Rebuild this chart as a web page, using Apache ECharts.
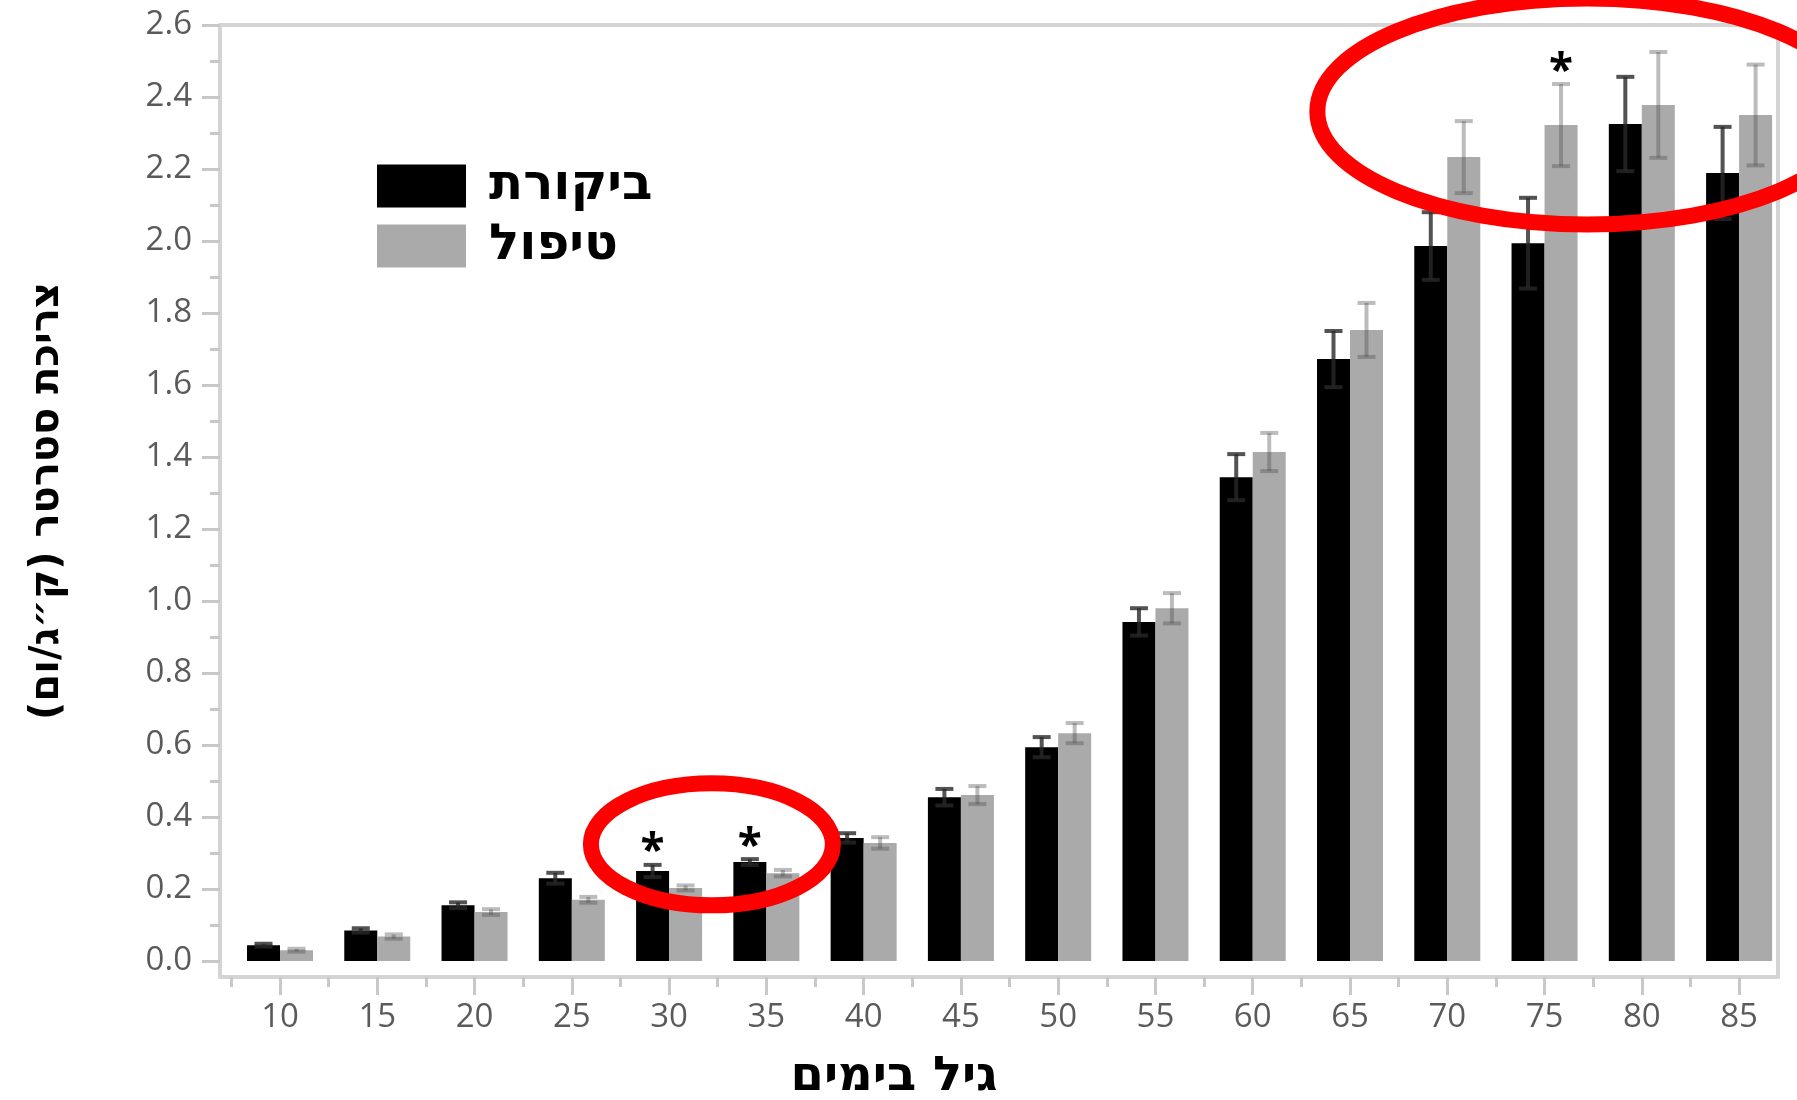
<!DOCTYPE html>
<html><head><meta charset="utf-8">
<script src="https://cdn.jsdelivr.net/npm/echarts@6/dist/echarts.min.js"></script>
<style>html,body{margin:0;padding:0;background:#fff}#c{width:1797px;height:1100px}</style>
</head><body><div id="c"></div>
<script>
// ---- data ----
const ages = [10,15,20,25,30,35,40,45,50,55,60,65,70,75,80,85];
const controlName = 'ביקורת';
const treatName = 'טיפול';
const controlMean = [0.044,0.085,0.155,0.23,0.25,0.275,0.342,0.455,0.594,0.942,1.344,1.672,1.986,1.994,2.325,2.189];
const controlErr  = [0.004,0.006,0.008,0.015,0.017,0.008,0.013,0.023,0.028,0.038,0.064,0.078,0.094,0.126,0.131,0.128];
const treatMean   = [0.030,0.068,0.136,0.170,0.203,0.244,0.328,0.461,0.633,0.980,1.414,1.753,2.233,2.322,2.378,2.350];
const treatErr    = [0.004,0.006,0.008,0.008,0.007,0.009,0.016,0.025,0.028,0.042,0.053,0.075,0.100,0.114,0.147,0.140];
const yTickLabels = ['0.0','0.2','0.4','0.6','0.8','1.0','1.2','1.4','1.6','1.8','2.0','2.2','2.4','2.6'];
const sigAges  = [30, 35, 75];
const sigGroup = [0, 0, 1]; // 0 = control, 1 = treatment
const highlightCenters = [[32.2, 0.324], [77.2, 2.36]];
const yTitle = 'צריכת סטרטר (ק״ג/ום)';
const xTitle = 'גיל בימים';

// ---- style constants ----
const BAR_W = 33;
const X_MIN = 6.916, X_MAX = 87.0, Y_MIN = -0.0444, Y_MAX = 2.6;
const FRAME = '#d4d4d4';
const TICK = '#c8c8c8';
const HEB = "'DejaVu Sans', 'Liberation Sans', Arial, sans-serif";
const NUM = "'Open Sans', 'DejaVu Sans', sans-serif";

const yMajor = yTickLabels.map(Number);
const yMinor = yMajor.slice(0, -1).map(v => +(v + 0.1).toFixed(2));
const xMinor = ages.map(a => a - 2.5);

const chart = echarts.init(document.getElementById('c'), null, {renderer: 'canvas'});

function errSeries(means, errs, side, color) {
  return {
    type: 'custom', xAxisIndex: 0, yAxisIndex: 0, z: 5, silent: true,
    data: ages.map((a, i) => [a, means[i], errs[i]]),
    renderItem: function (params, api) {
      const x = api.value(0), m = api.value(1), e = api.value(2);
      const t = api.coord([x, m + e]);
      const b = api.coord([x, m - e]);
      const cx = t[0] + side * BAR_W / 2;
      const st = {stroke: color, lineWidth: 4};
      return {type: 'group', children: [
        {type: 'line', shape: {x1: cx, y1: t[1], x2: cx, y2: b[1]}, style: st},
        {type: 'line', shape: {x1: cx - 9, y1: t[1], x2: cx + 9, y2: t[1]}, style: st},
        {type: 'line', shape: {x1: cx - 9, y1: b[1], x2: cx + 9, y2: b[1]}, style: st}
      ]};
    }
  };
}

const option = {
  animation: false,
  backgroundColor: '#fff',
  grid: {left: 220, right: 19, top: 25, bottom: 123, containLabel: false},
  legend: {
    data: [controlName, treatName], orient: 'vertical', left: 372, top: 156,
    itemWidth: 89, itemHeight: 43, itemGap: 10, icon: 'rect',
    textStyle: {fontSize: 50, fontWeight: 'bold', color: '#000', fontFamily: HEB, padding: [0, 0, 0, 18]}
  },
  xAxis: [
    {type: 'value', min: X_MIN, max: X_MAX, position: 'bottom',
     axisLine: {show: true, onZero: false, lineStyle: {color: FRAME, width: 4}},
     axisTick: {show: true, customValues: ages, length: 18, lineStyle: {color: TICK, width: 3}},
     axisLabel: {customValues: ages, fontSize: 33, color: '#5a5a5a', fontFamily: NUM, margin: 24},
     splitLine: {show: false}},
    {type: 'value', min: X_MIN, max: X_MAX, position: 'bottom',
     axisLine: {show: false, onZero: false},
     axisTick: {show: true, customValues: xMinor, length: 10, lineStyle: {color: TICK, width: 3}},
     axisLabel: {show: false}, splitLine: {show: false}},
    {type: 'value', min: X_MIN, max: X_MAX, position: 'top',
     axisLine: {show: true, onZero: false, lineStyle: {color: FRAME, width: 4}},
     axisTick: {show: false}, axisLabel: {show: false}, splitLine: {show: false}}
  ],
  yAxis: [
    {type: 'value', min: Y_MIN, max: Y_MAX, position: 'left',
     axisLine: {show: true, onZero: false, lineStyle: {color: FRAME, width: 4}},
     axisTick: {show: true, customValues: yMajor, length: 18, lineStyle: {color: TICK, width: 3}},
     axisLabel: {customValues: yMajor, formatter: v => yTickLabels[Math.round(v / 0.2)],
                 fontSize: 33, color: '#5a5a5a', fontFamily: NUM, margin: 28},
     splitLine: {show: false},
     name: yTitle, nameLocation: 'middle', nameGap: 152,
     nameTextStyle: {fontSize: 40, fontWeight: 'bold', color: '#000', fontFamily: HEB}},
    {type: 'value', min: Y_MIN, max: Y_MAX, position: 'left',
     axisLine: {show: false, onZero: false},
     axisTick: {show: true, customValues: yMinor, length: 10, lineStyle: {color: TICK, width: 3}},
     axisLabel: {show: false}, splitLine: {show: false}},
    {type: 'value', min: Y_MIN, max: Y_MAX, position: 'right',
     axisLine: {show: true, onZero: false, lineStyle: {color: FRAME, width: 4}},
     axisTick: {show: false}, axisLabel: {show: false}, splitLine: {show: false}}
  ],
  series: [
    {name: controlName, type: 'bar', xAxisIndex: 0, yAxisIndex: 0, barWidth: BAR_W, barGap: '0%',
     itemStyle: {color: '#000000'}, data: ages.map((a, i) => [a, controlMean[i]])},
    {name: treatName, type: 'bar', xAxisIndex: 0, yAxisIndex: 0, barWidth: BAR_W, barGap: '0%',
     itemStyle: {color: '#aaaaaa'}, data: ages.map((a, i) => [a, treatMean[i]])},
    errSeries(controlMean, controlErr, -1, 'rgba(40,40,40,0.8)'),
    errSeries(treatMean, treatErr, 1, 'rgba(80,80,80,0.38)'),
    {type: 'custom', xAxisIndex: 0, yAxisIndex: 0, z: 6, silent: true,
     data: sigAges.map((a, k) => {
       const i = ages.indexOf(a);
       const g = sigGroup[k];
       const top = g === 0 ? controlMean[i] + controlErr[i] : treatMean[i] + treatErr[i];
       return [a, top, g];
     }),
     renderItem: function (params, api) {
       const p = api.coord([api.value(0), api.value(1)]);
       const side = api.value(2) === 0 ? -1 : 1;
       return {type: 'text', style: {text: '*', x: p[0] + side * BAR_W / 2, y: p[1] + 10,
         font: 'bold 44px ' + NUM, fill: '#000', textAlign: 'center', textVerticalAlign: 'bottom'}};
     }}
  ],
  graphic: [
    {type: 'text', x: 894, y: 1078, z: 10,
     style: {text: xTitle, font: 'bold 48px ' + HEB, fill: '#000', textAlign: 'center', textVerticalAlign: 'middle'}}
  ]
};
chart.setOption(option);

const ellipseSizes = [[121, 61], [270, 113]];
const ells = highlightCenters.map((c, k) => {
  const p = chart.convertToPixel({xAxisIndex: 0, yAxisIndex: 0}, c);
  return {type: 'ellipse', z: 100, silent: true,
    shape: {cx: p[0], cy: p[1], rx: ellipseSizes[k][0], ry: ellipseSizes[k][1]},
    style: {fill: 'none', stroke: '#ff0000', lineWidth: 16}};
});
chart.setOption({graphic: option.graphic.concat(ells)});
</script>
</body></html>
